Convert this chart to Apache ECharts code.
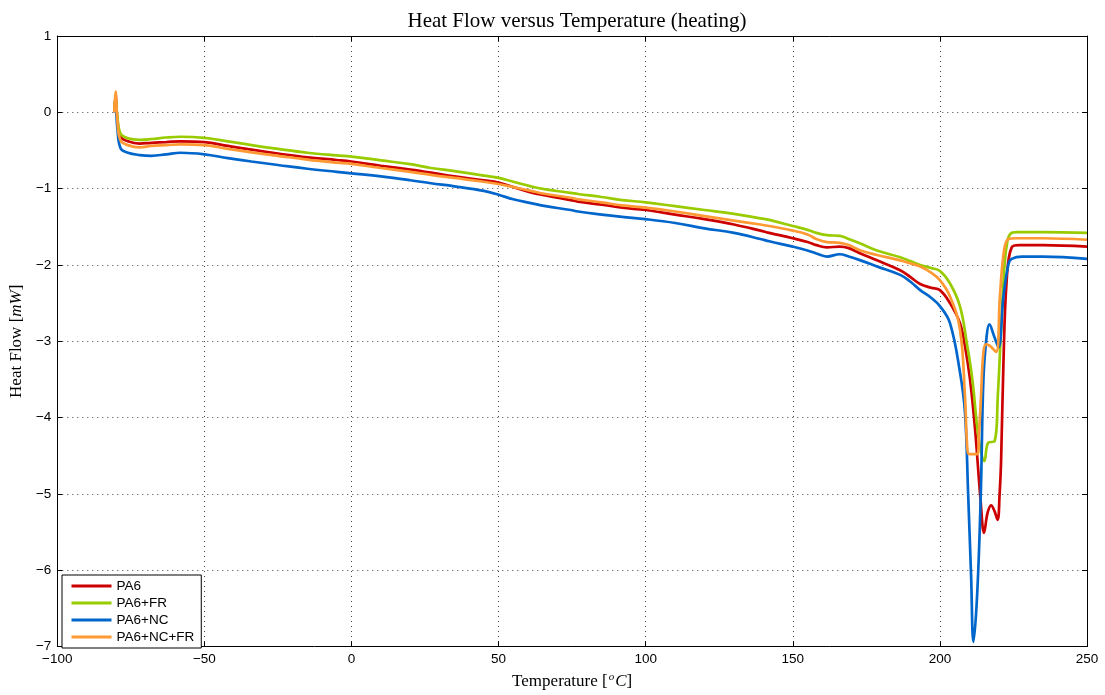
<!DOCTYPE html>
<html>
<head>
<meta charset="utf-8">
<script src="https://cdn.jsdelivr.net/npm/echarts@6/dist/echarts.min.js"></script>
<style>html,body{margin:0;padding:0;background:#fff;}#chart{width:1105px;height:695px;}</style>
</head>
<body>
<div id="chart"></div>
<script>
// ---- Data ----
const seriesNames = ['PA6', 'PA6+FR', 'PA6+NC', 'PA6+NC+FR'];
const xTicks = [-100, -50, 0, 50, 100, 150, 200, 250];
const yTicks = [-7, -6, -5, -4, -3, -2, -1, 0, 1];

// common baseline temperatures (°C) up to 200
const baseT = [-80.6, -80.2, -79.6, -78.5, -76, -72, -68, -63, -58, -50, -42, -34, -25, -15, -5, 0, 10, 20, 27, 35, 45, 50, 55, 61, 66, 74.5, 77, 85, 92, 100, 110, 120, 130, 139, 142, 150, 155, 158, 161.6, 166, 169, 173, 178.6, 186.5, 190, 193.3, 197, 200];

const pa6Base = [0, 0.22, -0.08, -0.32, -0.38, -0.41, -0.40, -0.39, -0.38, -0.39, -0.44, -0.49, -0.54, -0.59, -0.625, -0.645, -0.70, -0.75, -0.79, -0.84, -0.89, -0.92, -0.98, -1.05, -1.09, -1.15, -1.17, -1.21, -1.25, -1.28, -1.34, -1.40, -1.47, -1.55, -1.58, -1.65, -1.70, -1.74, -1.77, -1.76, -1.78, -1.85, -1.94, -2.07, -2.16, -2.25, -2.30, -2.33];
const pa6PeakT = [203.4, 206.8, 208.5, 210.2, 211.9, 213.9, 215, 216.2, 217.4, 218.5, 219.6, 220.3, 220.8, 221.6, 222.7, 224.4, 227, 235, 250];
const pa6PeakHF = [-2.50, -2.76, -3.06, -3.49, -4.13, -5.12, -5.51, -5.25, -5.15, -5.22, -5.34, -5.0, -4.57, -3.28, -2.20, -1.77, -1.74, -1.74, -1.76];

const frBase = [0, 0.20, -0.05, -0.28, -0.34, -0.36, -0.35, -0.33, -0.32, -0.335, -0.38, -0.43, -0.48, -0.53, -0.565, -0.58, -0.63, -0.68, -0.73, -0.77, -0.83, -0.86, -0.91, -0.97, -1.01, -1.055, -1.07, -1.11, -1.15, -1.18, -1.23, -1.28, -1.33, -1.39, -1.41, -1.49, -1.54, -1.58, -1.61, -1.62, -1.66, -1.72, -1.81, -1.90, -1.95, -2.0, -2.04, -2.08];
const frPeakT = [203.4, 206.8, 209.3, 211, 212.7, 214, 215.1, 216.4, 218.6, 219.7, 220.8, 222, 223, 224, 226, 235, 250];
const frPeakHF = [-2.24, -2.54, -3.06, -3.49, -4.13, -4.45, -4.57, -4.33, -4.31, -3.70, -2.84, -1.98, -1.68, -1.59, -1.57, -1.57, -1.58];

const ncBase = [0, 0.05, -0.20, -0.47, -0.53, -0.56, -0.57, -0.55, -0.53, -0.55, -0.60, -0.645, -0.69, -0.74, -0.78, -0.80, -0.84, -0.89, -0.93, -0.97, -1.03, -1.08, -1.14, -1.19, -1.23, -1.28, -1.30, -1.34, -1.37, -1.40, -1.45, -1.52, -1.58, -1.66, -1.69, -1.76, -1.81, -1.85, -1.89, -1.86, -1.89, -1.94, -2.02, -2.13, -2.22, -2.33, -2.43, -2.54];
const ncPeakT = [203.4, 206.8, 208.5, 209.6, 210.6, 211.4, 212.7, 213.9, 214.8, 215.9, 216.8, 218.4, 219.9, 221.6, 223.3, 224.4, 228, 235, 250];
const ncPeakHF = [-2.76, -3.40, -3.92, -5.0, -6.07, -6.94, -6.29, -5.0, -3.49, -2.93, -2.78, -2.93, -3.08, -2.41, -1.99, -1.92, -1.89, -1.89, -1.92];

const ncfrBase = [0, 0.27, -0.10, -0.37, -0.43, -0.46, -0.44, -0.43, -0.42, -0.43, -0.48, -0.525, -0.57, -0.62, -0.66, -0.676, -0.73, -0.78, -0.82, -0.86, -0.91, -0.94, -0.98, -1.03, -1.07, -1.12, -1.14, -1.18, -1.22, -1.25, -1.30, -1.36, -1.42, -1.47, -1.49, -1.55, -1.60, -1.66, -1.70, -1.71, -1.74, -1.81, -1.87, -1.94, -1.98, -2.02, -2.10, -2.20];
const ncfrPeakT = [203.4, 206.8, 208.5, 209.3, 210, 212.7, 213.3, 214, 214.8, 215.7, 217, 219.1, 220.4, 221.8, 223.3, 226, 235, 250];
const ncfrPeakHF = [-2.41, -2.84, -3.70, -4.39, -4.48, -4.48, -4.2, -3.70, -3.14, -3.04, -3.06, -3.14, -2.41, -1.81, -1.66, -1.65, -1.65, -1.67];

const colors = ['#cc0000', '#99cc00', '#0066cc', '#ff9933'];

function pairs(t1, v1, t2, v2) {
  const out = [];
  t1.forEach((t, i) => out.push([t, v1[i]]));
  t2.forEach((t, i) => out.push([t, v2[i]]));
  return out;
}
const seriesData = [
  pairs(baseT, pa6Base, pa6PeakT, pa6PeakHF),
  pairs(baseT, frBase, frPeakT, frPeakHF),
  pairs(baseT, ncBase, ncPeakT, ncPeakHF),
  pairs(baseT, ncfrBase, ncfrPeakT, ncfrPeakHF)
];

const minus = v => String(v).replace('-', '\u2212');
const sans = 'Liberation Sans, Arial, sans-serif';
const serif = 'Liberation Serif, DejaVu Serif, serif';

const chart = echarts.init(document.getElementById('chart'), null, {renderer: 'canvas'});
const gridLine = {show: true, lineStyle: {color: '#444', type: [1, 4], width: 1}};
const axisLine = {show: true, onZero: false, lineStyle: {color: '#000', width: 1}};
const axisTick = {show: true, inside: true, length: 5, lineStyle: {color: '#000'}};

chart.setOption({
  animation: false,
  backgroundColor: '#fff',
  title: {
    text: 'Heat Flow versus Temperature (heating)',
    left: 572, top: 6, textAlign: 'center',
    textStyle: {fontFamily: serif, fontSize: 21, fontWeight: 'normal', color: '#000'}
  },
  grid: {left: 56, right: 18, top: 36, bottom: 40, containLabel: false},
  legend: {
    orient: 'vertical', left: 62, top: 575,
    data: seriesNames,
    icon: 'inherit',
    itemWidth: 40, itemHeight: 12, itemGap: 3,
    padding: [4, 7, 4, 8],
    itemStyle: {opacity: 0},
    lineStyle: {width: 3},
    backgroundColor: '#fff', borderColor: '#000', borderWidth: 1, borderRadius: 0,
    textStyle: {fontFamily: sans, fontSize: 13.5, lineHeight: 13.5, color: '#000'}
  },
  xAxis: [{
    type: 'value', min: -100, max: 250, interval: 50, position: 'bottom',
    name: 'Temperature [{sup|o}{i|C}]', nameLocation: 'middle', nameGap: 25,
    nameTextStyle: {fontFamily: serif, fontSize: 17, color: '#000',
      rich: {i: {fontFamily: serif, fontStyle: 'italic', fontSize: 17, color: '#000'},
             sup: {fontFamily: serif, fontStyle: 'italic', fontSize: 11, color: '#000', padding: [0, 1, 9, 1]}}},
    axisLine: axisLine, axisTick: axisTick, splitLine: gridLine,
    axisLabel: {fontFamily: sans, fontSize: 13.5, color: '#000', margin: 6, formatter: minus}
  }, {
    type: 'value', min: -100, max: 250, interval: 50, position: 'top',
    axisLine: axisLine, axisTick: axisTick, splitLine: {show: false}, axisLabel: {show: false}
  }],
  yAxis: [{
    type: 'value', min: -7, max: 1, interval: 1, position: 'left',
    name: 'Heat Flow [{i|mW}]', nameLocation: 'middle', nameGap: 28,
    nameTextStyle: {fontFamily: serif, fontSize: 17, color: '#000',
      rich: {i: {fontFamily: serif, fontStyle: 'italic', fontSize: 17, color: '#000'}}},
    axisLine: axisLine, axisTick: axisTick, splitLine: gridLine,
    axisLabel: {fontFamily: sans, fontSize: 13.5, color: '#000', margin: 6, formatter: minus}
  }, {
    type: 'value', min: -7, max: 1, interval: 1, position: 'right',
    axisLine: axisLine, axisTick: axisTick, splitLine: {show: false}, axisLabel: {show: false}
  }],
  series: seriesNames.map((n, i) => ({
    name: n, type: 'line', data: seriesData[i],
    showSymbol: false, symbol: 'none', smooth: 0.4,
    lineStyle: {color: colors[i], width: 2.7}, itemStyle: {color: colors[i]},
    z: 3 + (i === 3 ? 1 : 0)
  }))
});
</script>
</body>
</html>
